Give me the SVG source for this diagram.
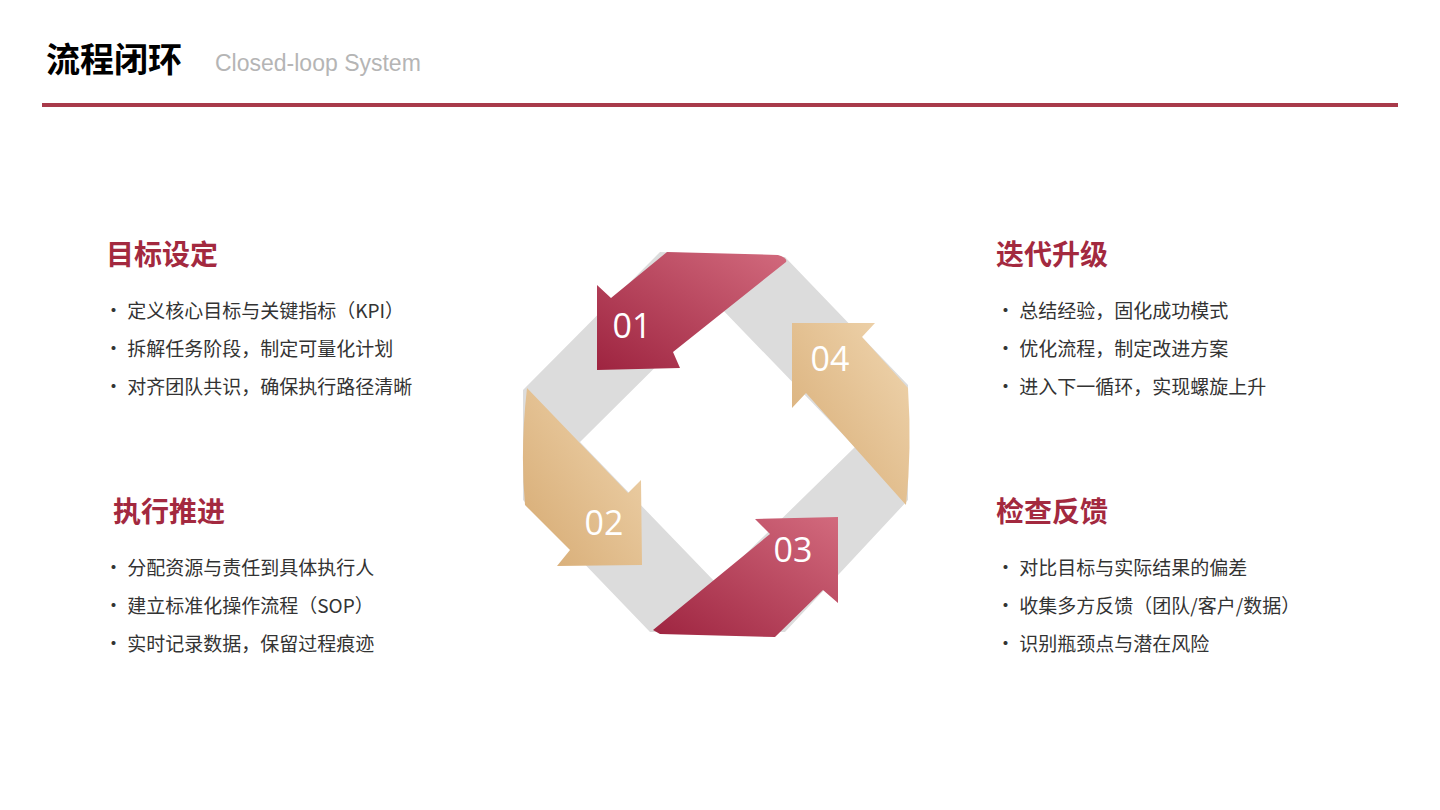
<svg xmlns="http://www.w3.org/2000/svg" width="1440" height="810" viewBox="0 0 1440 810">
<defs>
<linearGradient id="cr" x1="0" y1="1" x2="1" y2="0"><stop offset="0" stop-color="#9e2440"/><stop offset="1" stop-color="#d26a7d"/></linearGradient>
<linearGradient id="gd" x1="0" y1="1" x2="1" y2="0"><stop offset="0" stop-color="#d6aa72"/><stop offset="1" stop-color="#f0d6b0"/></linearGradient>
<style>
.t{font-family:"Noto Sans CJK SC","Noto Sans",sans-serif}
.h{font-size:28px;font-weight:bold;fill:#a3293f}
.b{font-size:19px;fill:#333}
.n{font-family:"Open Sans","Noto Sans",sans-serif;font-size:34px;fill:#fff;text-anchor:middle}
</style>
</defs>
<rect width="1440" height="810" fill="#fff"/>
<text class="t" x="46" y="72" font-size="34" font-weight="bold" fill="#000">流程闭环</text>
<text x="215" y="71" font-family="Liberation Sans,sans-serif" font-size="23" fill="#b5b5b5">Closed-loop System</text>
<rect x="42" y="103" width="1356" height="4" fill="#a83a4a"/>

<g id="ring">
<path d="M660,252 L785,257 L908,385 L908,500 L785,632 L650,632 L523,500 L523,390 Z M718,305 L580,442 L716,583 L855,447 Z" fill="#dcdcdc" fill-rule="evenodd"/>
</g>
<g id="step01">
<path d="M667,252 L778,255 Q788,258 786,262 L673,352 L680,368 L597,370 L597,285 L611,298 Z" fill="url(#cr)"/>
<text class="n" x="632" y="338">01</text>
</g>
<g id="step02">
<path d="M527,388 L628,493 L641,480 L642,565 L557,566 L570,550 L525,505 Q520,450 527,388 Z" fill="url(#gd)"/>
<text class="n" x="604" y="535">02</text>
</g>
<g id="step03">
<path d="M653,630 L770,534 L755,519 L838,517 L838,603 L823,590 L775,637 L660,634 Z" fill="url(#cr)"/>
<text class="n" x="793" y="562">03</text>
</g>
<g id="step04">
<path d="M908,388 L862,337 L875,323 L792,323 L792,408 L806,393 L906,505 Q912,450 908,388 Z" fill="url(#gd)"/>
<text class="n" x="830" y="371">04</text>
</g>

<g id="goal" class="t">
<text class="h" x="106" y="265">目标设定</text>
<text class="b" x="104" y="318">• 定义核心目标与关键指标（KPI）</text>
<text class="b" x="104" y="356">• 拆解任务阶段，制定可量化计划</text>
<text class="b" x="104" y="394">• 对齐团队共识，确保执行路径清晰</text>
</g>
<g id="exec" class="t">
<text class="h" x="113" y="522">执行推进</text>
<text class="b" x="104" y="575">• 分配资源与责任到具体执行人</text>
<text class="b" x="104" y="613">• 建立标准化操作流程（SOP）</text>
<text class="b" x="104" y="651">• 实时记录数据，保留过程痕迹</text>
</g>
<g id="iter" class="t">
<text class="h" x="996" y="265">迭代升级</text>
<text class="b" x="996" y="318">• 总结经验，固化成功模式</text>
<text class="b" x="996" y="356">• 优化流程，制定改进方案</text>
<text class="b" x="996" y="394">• 进入下一循环，实现螺旋上升</text>
</g>
<g id="check" class="t">
<text class="h" x="996" y="522">检查反馈</text>
<text class="b" x="996" y="575">• 对比目标与实际结果的偏差</text>
<text class="b" x="996" y="613">• 收集多方反馈（团队/客户/数据）</text>
<text class="b" x="996" y="651">• 识别瓶颈点与潜在风险</text>
</g>
</svg>
